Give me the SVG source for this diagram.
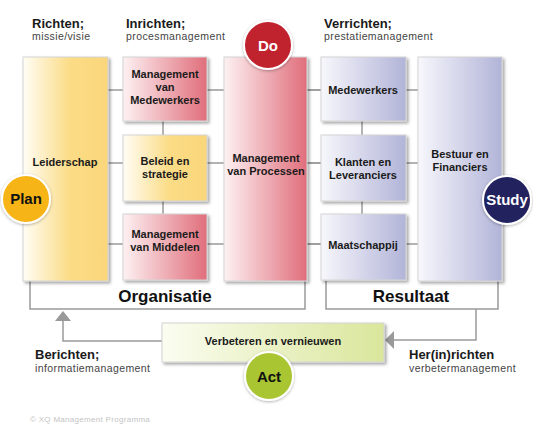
<svg xmlns="http://www.w3.org/2000/svg" width="533" height="426" viewBox="0 0 533 426">
<defs>
<linearGradient id="gY" x1="0" y1="0" x2="1" y2="0"><stop offset="0" stop-color="#fffdf5"/><stop offset="0.55" stop-color="#fbdc86"/><stop offset="1" stop-color="#fad67a"/></linearGradient>
<linearGradient id="gR" x1="0" y1="0" x2="1" y2="0"><stop offset="0" stop-color="#fdf1f2"/><stop offset="1" stop-color="#e06e7b"/></linearGradient>
<linearGradient id="gB" x1="0" y1="0" x2="1" y2="0"><stop offset="0" stop-color="#f7f7fc"/><stop offset="1" stop-color="#b2b4d8"/></linearGradient>
<linearGradient id="gG" x1="0" y1="0" x2="1" y2="0"><stop offset="0" stop-color="#fbfdf1"/><stop offset="1" stop-color="#d9e69b"/></linearGradient>
<filter id="sh" x="-10%" y="-10%" width="130%" height="130%"><feDropShadow dx="2" dy="2" stdDeviation="1.8" flood-color="#000" flood-opacity="0.35"/></filter>
<filter id="csh" x="-20%" y="-20%" width="150%" height="150%"><feDropShadow dx="0" dy="1" stdDeviation="1.5" flood-color="#000" flood-opacity="0.3"/></filter>
</defs>
<style>
text{font-family:"Liberation Sans",Arial,sans-serif;}
.box{stroke:#d4d4d4;stroke-width:1;filter:url(#sh);}
.bl{font-size:11px;font-weight:bold;fill:#1a1a1a;text-anchor:middle;}
.h{font-size:13px;font-weight:bold;fill:#1a1a1a;}
.s{font-size:10.5px;letter-spacing:0.4px;fill:#444;}
.big{font-size:17px;font-weight:bold;fill:#111;text-anchor:middle;}
.con{stroke:#9a9a9a;stroke-width:1.5;fill:none;}
.circ{stroke:#fff;stroke-width:2;filter:url(#csh);}
.cl{font-size:15px;font-weight:bold;text-anchor:middle;}
</style>
<rect width="533" height="426" fill="#fff"/>

<g id="headers">
<text class="h" x="32" y="28">Richten;</text>
<text class="s" x="32" y="40">missie/visie</text>
<text class="h" x="126" y="28">Inrichten;</text>
<text class="s" x="126" y="40">procesmanagement</text>
<text class="h" x="324" y="28">Verrichten;</text>
<text class="s" x="324" y="40">prestatiemanagement</text>
<text class="h" x="35" y="359">Berichten;</text>
<text class="s" x="35" y="372">informatiemanagement</text>
<text class="h" x="409" y="359">Her(in)richten</text>
<text class="s" x="409" y="372">verbetermanagement</text>
<text x="30" y="422" font-size="8" letter-spacing="0.3" fill="#c4c4c4">© XQ Management Programma</text>
</g>

<g id="connectors">
<line class="con" x1="108" y1="90" x2="321" y2="90"/>
<line class="con" x1="108" y1="163" x2="321" y2="163"/>
<line class="con" x1="108" y1="244" x2="321" y2="244"/>
<line class="con" x1="307" y1="90" x2="418" y2="90"/>
<line class="con" x1="307" y1="163" x2="418" y2="163"/>
<line class="con" x1="307" y1="244" x2="418" y2="244"/>
<line class="con" x1="163" y1="121" x2="163" y2="214"/>
<line class="con" x1="362" y1="121" x2="362" y2="214"/>
<polyline class="con" points="30,281 30,309 305,309 305,281"/>
<polyline class="con" points="326,281 326,309 498,309 498,281"/>
<polyline class="con" points="162,341 63,341 63,320"/>
<path d="M63,311 L55,321 L71,321 Z" fill="#999"/>
<polyline class="con" points="476,309 476,340 393,340"/>
<path d="M385,340 L394,331 L394,349 Z" fill="#999"/>
</g>

<g id="leiderschap">
<rect class="box" x="23" y="57" width="85" height="224" fill="url(#gY)"/>
<text class="bl" x="65" y="166">Leiderschap</text>
</g>
<g id="mgmt-medewerkers">
<rect class="box" x="123" y="57" width="84" height="64" fill="url(#gR)"/>
<text class="bl" x="165" y="78">Management</text>
<text class="bl" x="165" y="91">van</text>
<text class="bl" x="165" y="104">Medewerkers</text>
</g>
<g id="beleid">
<rect class="box" x="123" y="135" width="84" height="66" fill="url(#gY)"/>
<text class="bl" x="165" y="165">Beleid en</text>
<text class="bl" x="165" y="178">strategie</text>
</g>
<g id="mgmt-middelen">
<rect class="box" x="123" y="214" width="84" height="66" fill="url(#gR)"/>
<text class="bl" x="165" y="238">Management</text>
<text class="bl" x="165" y="251">van Middelen</text>
</g>
<g id="processen">
<rect class="box" x="224" y="57" width="83" height="224" fill="url(#gR)"/>
<text class="bl" x="266" y="162">Management</text>
<text class="bl" x="266" y="175">van Processen</text>
</g>
<g id="medewerkers">
<rect class="box" x="321" y="57" width="85" height="64" fill="url(#gB)"/>
<text class="bl" x="363" y="94">Medewerkers</text>
</g>
<g id="klanten">
<rect class="box" x="321" y="135" width="85" height="66" fill="url(#gB)"/>
<text class="bl" x="363" y="166">Klanten en</text>
<text class="bl" x="363" y="179">Leveranciers</text>
</g>
<g id="maatschappij">
<rect class="box" x="321" y="214" width="85" height="66" fill="url(#gB)"/>
<text class="bl" x="363" y="249">Maatschappij</text>
</g>
<g id="bestuur">
<rect class="box" x="418" y="57" width="84" height="224" fill="url(#gB)"/>
<text class="bl" x="460" y="158">Bestuur en</text>
<text class="bl" x="460" y="171">Financiers</text>
</g>

<g id="organisatie"><text class="big" x="165" y="302">Organisatie</text></g>
<g id="resultaat"><text class="big" x="411" y="302">Resultaat</text></g>

<g id="verbeteren">
<rect class="box" x="162" y="323" width="222" height="39" fill="url(#gG)"/>
<text class="bl" x="273" y="345">Verbeteren en vernieuwen</text>
</g>

<g id="plan">
<circle class="circ" cx="26" cy="199" r="24" fill="#f7b416"/>
<text class="cl" x="26" y="204" fill="#111">Plan</text>
</g>
<g id="do">
<circle class="circ" cx="268" cy="45" r="24" fill="#c0202e"/>
<text class="cl" x="268" y="51" fill="#fff">Do</text>
</g>
<g id="study">
<circle class="circ" cx="507" cy="200" r="24" fill="#22235f"/>
<text class="cl" x="507" y="205" fill="#fff">Study</text>
</g>
<g id="act">
<circle class="circ" cx="269" cy="376" r="24" fill="#a9c532"/>
<text class="cl" x="269" y="382" fill="#111" font-size="16">Act</text>
</g>
</svg>
